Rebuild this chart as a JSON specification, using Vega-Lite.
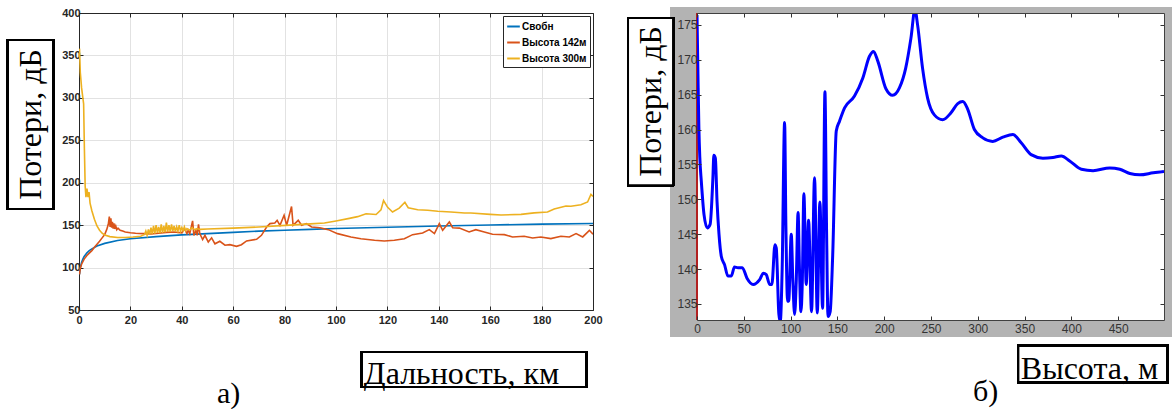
{
"$schema": "https://vega.github.io/schema/vega-lite/v6.json",
"autosize": {"type": "pad"},
"padding": {"left": 6, "top": 6, "right": 0, "bottom": 0},
"background": "white",
"config": {"view": {"stroke": null}},
"bounds": "flush",
"spacing": 104,
"resolve": {"scale": {"color": "independent"}, "legend": {"color": "independent"}},
"datasets": {
"left": [
{"s":"Свобн","d":0.2,"v":92},{"s":"Свобн","d":0.5,"v":100},{"s":"Свобн","d":1,"v":106},{"s":"Свобн","d":1.5,"v":110},{"s":"Свобн","d":2,"v":113},{"s":"Свобн","d":3,"v":117},{"s":"Свобн","d":4,"v":120},{"s":"Свобн","d":5,"v":122},{"s":"Свобн","d":7,"v":125.5},{"s":"Свобн","d":10,"v":128.5},{"s":"Свобн","d":15,"v":132},{"s":"Свобн","d":20,"v":134},{"s":"Свобн","d":30,"v":136.5},{"s":"Свобн","d":40,"v":138.5},{"s":"Свобн","d":50,"v":140},{"s":"Свобн","d":60,"v":141.5},{"s":"Свобн","d":70,"v":143},{"s":"Свобн","d":80,"v":144},{"s":"Свобн","d":90,"v":145},{"s":"Свобн","d":100,"v":146},{"s":"Свобн","d":120,"v":147.5},{"s":"Свобн","d":140,"v":149},{"s":"Свобн","d":160,"v":150.2},{"s":"Свобн","d":180,"v":151.2},{"s":"Свобн","d":200,"v":152},
{"s":"Высота 142м","d":0.2,"v":92},{"s":"Высота 142м","d":0.5,"v":99},{"s":"Высота 142м","d":1,"v":104},{"s":"Высота 142м","d":2,"v":110},{"s":"Высота 142м","d":3,"v":114},{"s":"Высота 142м","d":4,"v":117},{"s":"Высота 142м","d":5,"v":120},{"s":"Высота 142м","d":6,"v":124},{"s":"Высота 142м","d":7,"v":127.5},{"s":"Высота 142м","d":8,"v":131},{"s":"Высота 142м","d":9,"v":135},{"s":"Высота 142м","d":10,"v":139},{"s":"Высота 142м","d":10.8,"v":145},{"s":"Высота 142м","d":11.4,"v":151},{"s":"Высота 142м","d":11.8,"v":160},{"s":"Высота 142м","d":12.1,"v":148},{"s":"Высота 142м","d":12.4,"v":158},{"s":"Высота 142м","d":12.7,"v":147},{"s":"Высота 142м","d":13,"v":154},{"s":"Высота 142м","d":13.3,"v":146},{"s":"Высота 142м","d":13.6,"v":152},{"s":"Высота 142м","d":13.9,"v":145.5},{"s":"Высота 142м","d":14.3,"v":149},{"s":"Высота 142м","d":14.7,"v":144.5},{"s":"Высота 142м","d":15.2,"v":146.5},{"s":"Высота 142м","d":16,"v":144},{"s":"Высота 142м","d":17,"v":143},{"s":"Высота 142м","d":18,"v":142},{"s":"Высота 142м","d":20,"v":141},{"s":"Высота 142м","d":22,"v":140.5},{"s":"Высота 142м","d":25,"v":140},{"s":"Высота 142м","d":28,"v":139.5},{"s":"Высота 142м","d":31,"v":140.5},{"s":"Высота 142м","d":34,"v":141.5},{"s":"Высота 142м","d":37,"v":142},{"s":"Высота 142м","d":40,"v":141},{"s":"Высота 142м","d":41,"v":146},{"s":"Высота 142м","d":42,"v":140},{"s":"Высота 142м","d":42.5,"v":144},{"s":"Высота 142м","d":43.1,"v":140},{"s":"Высота 142м","d":44.2,"v":155},{"s":"Высота 142м","d":44.7,"v":138},{"s":"Высота 142м","d":45.5,"v":144},{"s":"Высота 142м","d":46,"v":138},{"s":"Высота 142м","d":46.5,"v":151},{"s":"Высота 142м","d":47,"v":140},{"s":"Высота 142м","d":48.1,"v":133},{"s":"Высота 142м","d":49,"v":138},{"s":"Высота 142м","d":50.3,"v":130},{"s":"Высота 142м","d":51.6,"v":135},{"s":"Высота 142м","d":52.9,"v":128},{"s":"Высота 142м","d":54.8,"v":131},{"s":"Высота 142м","d":56.8,"v":126.3},{"s":"Высота 142м","d":58.7,"v":127},{"s":"Высота 142м","d":61.3,"v":125},{"s":"Высота 142м","d":63.2,"v":127},{"s":"Высота 142м","d":65.2,"v":131.4},{"s":"Высота 142м","d":69.1,"v":133.3},{"s":"Высота 142м","d":71,"v":138},{"s":"Высота 142м","d":73,"v":147.8},{"s":"Высота 142м","d":74.3,"v":151.8},{"s":"Высота 142м","d":76.2,"v":152.5},{"s":"Высота 142м","d":77.1,"v":155.7},{"s":"Высота 142м","d":78.2,"v":149.8},{"s":"Высота 142м","d":79.8,"v":161.6},{"s":"Высота 142м","d":80.8,"v":149.8},{"s":"Высота 142м","d":82.7,"v":172},{"s":"Высота 142м","d":83.3,"v":149.8},{"s":"Высота 142м","d":85.3,"v":155.7},{"s":"Высота 142м","d":86.6,"v":149.8},{"s":"Высота 142м","d":88.5,"v":151.8},{"s":"Высота 142м","d":90.5,"v":147.8},{"s":"Высота 142м","d":93.7,"v":147},{"s":"Высота 142м","d":97,"v":144.7},{"s":"Высота 142м","d":100.6,"v":140},{"s":"Высота 142м","d":105.8,"v":136},{"s":"Высота 142м","d":109.7,"v":134},{"s":"Высота 142м","d":115,"v":132.2},{"s":"Высота 142м","d":118.8,"v":131.4},{"s":"Высота 142м","d":122.7,"v":132.2},{"s":"Высота 142м","d":126.6,"v":134},{"s":"Высота 142м","d":129.8,"v":138.8},{"s":"Высота 142м","d":133.7,"v":140.8},{"s":"Высота 142м","d":136.3,"v":144.7},{"s":"Высота 142м","d":138.3,"v":140},{"s":"Высота 142м","d":140.2,"v":151.8},{"s":"Высота 142м","d":141.5,"v":143.9},{"s":"Высота 142м","d":144.1,"v":153.7},{"s":"Высота 142м","d":145.4,"v":147},{"s":"Высота 142м","d":148,"v":146.5},{"s":"Высота 142м","d":151.8,"v":142},{"s":"Высота 142м","d":154.4,"v":144.7},{"s":"Высота 142м","d":157.7,"v":142},{"s":"Высота 142м","d":160.9,"v":139.2},{"s":"Высота 142м","d":165.5,"v":138.8},{"s":"Высота 142м","d":168.7,"v":136.1},{"s":"Высота 142м","d":173.2,"v":136.9},{"s":"Высота 142м","d":176.5,"v":134.9},{"s":"Высота 142м","d":179.7,"v":136.1},{"s":"Высота 142м","d":183.6,"v":134.1},{"s":"Высота 142м","d":187.5,"v":136.9},{"s":"Высота 142м","d":190.8,"v":136.1},{"s":"Высота 142м","d":193.4,"v":140},{"s":"Высота 142м","d":196,"v":136.1},{"s":"Высота 142м","d":198.6,"v":143.9},{"s":"Высота 142м","d":200,"v":139.2},
{"s":"Высота 300м","d":0.2,"v":358},{"s":"Высота 300м","d":0.5,"v":330},{"s":"Высота 300м","d":1,"v":312},{"s":"Высота 300м","d":1.5,"v":300},{"s":"Высота 300м","d":1.8,"v":293},{"s":"Высота 300м","d":2.1,"v":240},{"s":"Высота 300м","d":2.4,"v":196},{"s":"Высота 300м","d":2.7,"v":183},{"s":"Высота 300м","d":3.1,"v":193},{"s":"Высота 300м","d":3.5,"v":183},{"s":"Высота 300м","d":3.9,"v":189},{"s":"Высота 300м","d":4.3,"v":176},{"s":"Высота 300м","d":5,"v":167},{"s":"Высота 300м","d":6,"v":157},{"s":"Высота 300м","d":7,"v":149},{"s":"Высота 300м","d":8,"v":144},{"s":"Высота 300м","d":9,"v":140.5},{"s":"Высота 300м","d":10,"v":138.5},{"s":"Высота 300м","d":12,"v":136.5},{"s":"Высота 300м","d":15,"v":135.5},{"s":"Высота 300м","d":18,"v":135.5},{"s":"Высота 300м","d":21,"v":136},{"s":"Высота 300м","d":24,"v":137},{"s":"Высота 300м","d":25.5,"v":139},{"s":"Высота 300м","d":26,"v":143},{"s":"Высота 300м","d":26.5,"v":138},{"s":"Высота 300м","d":27,"v":145},{"s":"Высота 300м","d":27.5,"v":139},{"s":"Высота 300м","d":28,"v":147},{"s":"Высота 300м","d":28.5,"v":139.5},{"s":"Высота 300м","d":29,"v":149},{"s":"Высота 300м","d":29.5,"v":140},{"s":"Высота 300м","d":30,"v":150},{"s":"Высота 300м","d":30.5,"v":141},{"s":"Высота 300м","d":31,"v":148},{"s":"Высота 300м","d":31.5,"v":140.5},{"s":"Высота 300м","d":32,"v":151},{"s":"Высота 300м","d":32.5,"v":141},{"s":"Высота 300м","d":33,"v":149},{"s":"Высота 300м","d":33.5,"v":141.5},{"s":"Высота 300м","d":34,"v":153},{"s":"Высота 300м","d":34.5,"v":142},{"s":"Высота 300м","d":35,"v":150},{"s":"Высота 300м","d":35.5,"v":142},{"s":"Высота 300м","d":36,"v":151},{"s":"Высота 300м","d":36.5,"v":143},{"s":"Высота 300м","d":37,"v":149},{"s":"Высота 300м","d":37.5,"v":142.5},{"s":"Высота 300м","d":38,"v":148},{"s":"Высота 300м","d":38.5,"v":143},{"s":"Высота 300м","d":39,"v":150},{"s":"Высота 300м","d":39.5,"v":143},{"s":"Высота 300м","d":40,"v":147},{"s":"Высота 300м","d":40.5,"v":143.5},{"s":"Высота 300м","d":41,"v":148},{"s":"Высота 300м","d":41.5,"v":143.5},{"s":"Высота 300м","d":42,"v":146},{"s":"Высота 300м","d":43,"v":144},{"s":"Высота 300м","d":44,"v":147},{"s":"Высота 300м","d":45,"v":144.5},{"s":"Высота 300м","d":46,"v":146},{"s":"Высота 300м","d":47,"v":145},{"s":"Высота 300м","d":50,"v":145.5},{"s":"Высота 300м","d":60,"v":146.5},{"s":"Высота 300м","d":70,"v":147.8},{"s":"Высота 300м","d":82,"v":150},{"s":"Высота 300м","d":90,"v":151.5},{"s":"Высота 300м","d":95.5,"v":152.5},{"s":"Высота 300м","d":100,"v":154.9},{"s":"Высота 300м","d":105.2,"v":158},{"s":"Высота 300м","d":108.4,"v":160},{"s":"Высота 300м","d":111.7,"v":163.5},{"s":"Высота 300м","d":115.6,"v":162.5},{"s":"Высота 300м","d":117.5,"v":168},{"s":"Высота 300м","d":118.5,"v":179},{"s":"Высота 300м","d":120.1,"v":171},{"s":"Высота 300м","d":122,"v":165.5},{"s":"Высота 300м","d":124.6,"v":170},{"s":"Высота 300м","d":126.8,"v":177},{"s":"Высота 300м","d":128.1,"v":170.5},{"s":"Высота 300м","d":131.8,"v":168.2},{"s":"Высота 300м","d":135.7,"v":167.5},{"s":"Высота 300м","d":139.6,"v":166.3},{"s":"Высота 300м","d":144.7,"v":165.5},{"s":"Высота 300м","d":150,"v":164.3},{"s":"Высота 300м","d":152.5,"v":164.3},{"s":"Высота 300м","d":160,"v":162.7},{"s":"Высота 300м","d":164.2,"v":162},{"s":"Высота 300м","d":172,"v":162.7},{"s":"Высота 300м","d":177.1,"v":164.5},{"s":"Высота 300м","d":182.3,"v":165.5},{"s":"Высота 300м","d":184.9,"v":169},{"s":"Высота 300м","d":189.5,"v":172.5},{"s":"Высота 300м","d":191.4,"v":172.2},{"s":"Высота 300м","d":195.3,"v":174.1},{"s":"Высота 300м","d":197.9,"v":177.3},{"s":"Высота 300м","d":199.2,"v":186.3},{"s":"Высота 300м","d":200,"v":183.9}
],
"right": [
{"h":0,"v":176.4},{"h":1,"v":168},{"h":2,"v":160.3},{"h":3,"v":156},{"h":4.6,"v":152.6},{"h":7.5,"v":147.8},{"h":11,"v":145.9},{"h":14,"v":146.4},{"h":17,"v":153.1},{"h":18,"v":156.3},{"h":19.6,"v":155.9},{"h":21.4,"v":149.7},{"h":23.5,"v":145},{"h":26,"v":141.8},{"h":29.5,"v":140.6},{"h":33,"v":139},{"h":36.7,"v":139},{"h":40,"v":140.3},{"h":43.8,"v":140.2},{"h":48.4,"v":140.2},{"h":53.4,"v":138.7},{"h":60,"v":137.8},{"h":67,"v":138.5},{"h":71,"v":139.4},{"h":74,"v":139.2},{"h":77.6,"v":137.8},{"h":80,"v":137.8},{"h":83.3,"v":143.5},{"h":84.7,"v":143},{"h":87.5,"v":133.5},{"h":89,"v":132.5},{"h":91,"v":140},{"h":93.6,"v":161},{"h":95,"v":146},{"h":96.8,"v":135.4},{"h":98,"v":135.4},{"h":100.7,"v":145},{"h":102.5,"v":138},{"h":104.3,"v":133.5},{"h":106,"v":138},{"h":108,"v":148.1},{"h":109.5,"v":140},{"h":111,"v":133.9},{"h":112.5,"v":138},{"h":114.2,"v":150.8},{"h":116.7,"v":137.8},{"h":119.2,"v":147},{"h":122.4,"v":133.9},{"h":125.6,"v":153.1},{"h":128.5,"v":133.7},{"h":131.3,"v":149.6},{"h":134.2,"v":134.4},{"h":136.7,"v":165.4},{"h":138.5,"v":145},{"h":140,"v":133.2},{"h":142.3,"v":133.9},{"h":145,"v":142},{"h":148.8,"v":159.8},{"h":152.3,"v":161.2},{"h":157.7,"v":163.1},{"h":168.3,"v":164.8},{"h":177.2,"v":167.4},{"h":184.3,"v":170.5},{"h":188.6,"v":171.2},{"h":193.2,"v":169.8},{"h":202,"v":165.8},{"h":209,"v":164.9},{"h":216.4,"v":166},{"h":223,"v":168.8},{"h":228.6,"v":173.1},{"h":232.9,"v":177.2},{"h":235.7,"v":175},{"h":241,"v":168.8},{"h":246.4,"v":164.5},{"h":253.6,"v":162.1},{"h":262.5,"v":161.4},{"h":271.4,"v":162.4},{"h":278.6,"v":163.7},{"h":284,"v":164},{"h":289.3,"v":162.9},{"h":296.4,"v":160},{"h":305.4,"v":158.8},{"h":316,"v":158.3},{"h":326.8,"v":158.9},{"h":337.5,"v":159.3},{"h":346.4,"v":158.1},{"h":357,"v":156.4},{"h":369.6,"v":155.9},{"h":380.4,"v":156},{"h":389.3,"v":156.2},{"h":398.2,"v":155.5},{"h":410.7,"v":154.3},{"h":423.2,"v":154.1},{"h":441,"v":154.5},{"h":451.8,"v":154.3},{"h":462.5,"v":153.7},{"h":473.2,"v":153.5},{"h":487.5,"v":153.8},{"h":499,"v":154}
]
},
"hconcat": [
{
"width": 514, "height": 297,
"title": {"text": "а)", "orient": "bottom", "anchor": "start", "frame": "group", "dx": 138, "offset": 14, "baseline": "alphabetic", "font": "Liberation Serif", "fontSize": 30, "fontWeight": "normal", "color": "black"},
"data": {"name": "left"},
"layer": [
{
"mark": {"type": "line", "strokeWidth": 1.6, "clip": true},
"encoding": {
"x": {"field": "d", "type": "quantitative", "scale": {"domain": [0, 200], "nice": false, "zero": false},
"axis": {"orient": "bottom", "values": [0,20,40,60,80,100,120,140,160,180,200], "title": "Дальность, км", "titleFont": "Liberation Serif", "titleFontSize": 32, "titleFontWeight": "normal", "titleColor": "black", "titleX": 382, "titleY": 73, "titleAlign": "center", "titleBaseline": "alphabetic", "titleAnchor": null, "labelFont": "Liberation Sans", "labelFontWeight": "bold", "labelFontSize": 11, "labelColor": "#262626", "tickSize": -4, "tickColor": "#262626", "domainColor": "#262626", "labelPadding": 8, "grid": true, "gridColor": "#e2e2e2", "labelFlush": false}},
"y": {"field": "v", "type": "quantitative", "scale": {"domain": [50, 400], "nice": false, "zero": false},
"axis": {"orient": "left", "values": [50,100,150,200,250,300,350,400], "title": "Потери, дБ", "titleFont": "Liberation Serif", "titleFontSize": 32, "titleFontWeight": "normal", "titleColor": "black", "titleX": -49, "titleY": 111, "titleAngle": 270, "titleAlign": "center", "titleBaseline": "middle", "titleAnchor": null, "labelFont": "Liberation Sans", "labelFontWeight": "bold", "labelFontSize": 11, "labelColor": "#262626", "tickSize": -4, "tickColor": "#262626", "domainColor": "#262626", "labelPadding": 3, "grid": true, "gridColor": "#e2e2e2", "labelFlush": false}},
"color": {"field": "s", "type": "nominal", "sort": ["Свобн", "Высота 142м", "Высота 300м"],
"scale": {"domain": ["Свобн", "Высота 142м", "Высота 300м"], "range": ["#0072BD", "#D95319", "#EDB120"]},
"legend": {"title": null, "orient": "top-right", "offset": 3, "strokeColor": "#262626", "fillColor": "white", "padding": 3, "labelFont": "Liberation Sans", "labelFontWeight": "bold", "labelFontSize": 10, "labelColor": "black", "symbolType": "stroke", "symbolStrokeWidth": 2, "symbolSize": 160, "rowPadding": 3, "labelOffset": 1, "cornerRadius": 0}}
}
},
{
"mark": {"type": "line", "opacity": 0},
"encoding": {
"x": {"field": "d", "type": "quantitative", "scale": {"domain": [0, 200], "nice": false, "zero": false},
"axis": {"orient": "top", "values": [0,20,40,60,80,100,120,140,160,180,200], "labels": false, "title": null, "grid": false, "tickSize": -4, "tickColor": "#262626", "domainColor": "#262626"}},
"y": {"field": "v", "type": "quantitative", "scale": {"domain": [50, 400], "nice": false, "zero": false},
"axis": {"orient": "right", "values": [50,100,150,200,250,300,350,400], "labels": false, "title": null, "grid": false, "tickSize": -4, "tickColor": "#262626", "domainColor": "#262626"}},
"detail": {"field": "s"}
}
},
{
"mark": {"type": "rect", "filled": false, "stroke": "black", "strokeWidth": 2, "clip": false},
"encoding": {
"x": {"datum": -28, "type": "quantitative", "scale": {"domain": [0, 200], "nice": false, "zero": false}, "axis": null},
"x2": {"datum": -10.1},
"y": {"datum": 368.2, "type": "quantitative", "scale": {"domain": [50, 400], "nice": false, "zero": false}, "axis": null},
"y2": {"datum": 169}
}
},
{
"mark": {"type": "rect", "filled": false, "stroke": "black", "strokeWidth": 2, "clip": false},
"encoding": {
"x": {"datum": 110.1, "type": "quantitative", "scale": {"domain": [0, 200], "nice": false, "zero": false}, "axis": null},
"x2": {"datum": 197.3},
"y": {"datum": 0.5, "type": "quantitative", "scale": {"domain": [50, 400], "nice": false, "zero": false}, "axis": null},
"y2": {"datum": -40.7}
}
}
],
"resolve": {"axis": {"x": "independent", "y": "independent"}}
},
{
"width": 467, "height": 307,
"title": {"text": "б)", "orient": "bottom", "anchor": "start", "frame": "group", "dx": 276, "offset": 17, "baseline": "alphabetic", "font": "Liberation Serif", "fontSize": 30, "fontWeight": "normal", "color": "black"},
"data": {"name": "right"},
"layer": [
{
"mark": {"type": "rect", "color": "#b3b3b3", "clip": false},
"encoding": {
"x": {"datum": -28.8, "type": "quantitative", "scale": {"domain": [0, 499], "nice": false, "zero": false}, "axis": null},
"x2": {"datum": 507.6},
"y": {"datum": 177.56, "type": "quantitative", "scale": {"domain": [132.7, 176.7], "nice": false, "zero": false}, "axis": null},
"y2": {"datum": 130.26}
}
},
{
"mark": {"type": "rect", "color": "white", "clip": false},
"encoding": {
"x": {"datum": 0, "type": "quantitative", "scale": {"domain": [0, 499], "nice": false, "zero": false}, "axis": null},
"x2": {"datum": 499},
"y": {"datum": 176.7, "type": "quantitative", "scale": {"domain": [132.7, 176.7], "nice": false, "zero": false}, "axis": null},
"y2": {"datum": 132.7}
}
},
{
"mark": {"type": "rect", "fill": "white", "stroke": "black", "strokeWidth": 2, "clip": false},
"encoding": {
"x": {"datum": -73.7, "type": "quantitative", "scale": {"domain": [0, 499], "nice": false, "zero": false}, "axis": null},
"x2": {"datum": -25.6},
"y": {"datum": 176.0, "type": "quantitative", "scale": {"domain": [132.7, 176.7], "nice": false, "zero": false}, "axis": null},
"y2": {"datum": 152.0}
}
},
{
"mark": {"type": "rect", "filled": false, "stroke": "black", "strokeWidth": 2, "clip": false},
"encoding": {
"x": {"datum": 343, "type": "quantitative", "scale": {"domain": [0, 499], "nice": false, "zero": false}, "axis": null},
"x2": {"datum": 503.2},
"y": {"datum": 129.0, "type": "quantitative", "scale": {"domain": [132.7, 176.7], "nice": false, "zero": false}, "axis": null},
"y2": {"datum": 123.7}
}
},
{
"mark": {"type": "rule", "color": "#b22222", "strokeWidth": 1.5},
"encoding": {
"x": {"datum": 0, "type": "quantitative", "scale": {"domain": [0, 499], "nice": false, "zero": false}, "axis": null}
}
},
{
"mark": {"type": "line", "color": "#0000ff", "strokeWidth": 3, "interpolate": "monotone", "clip": true},
"encoding": {
"x": {"field": "h", "type": "quantitative", "scale": {"domain": [0, 499], "nice": false, "zero": false},
"axis": {"orient": "bottom", "zindex": 1, "values": [0,50,100,150,200,250,300,350,400,450], "title": "Высота, м", "titleFont": "Liberation Serif", "titleFontSize": 32, "titleFontWeight": "normal", "titleColor": "black", "titleX": 392, "titleY": 58, "titleAlign": "center", "titleBaseline": "alphabetic", "titleAnchor": null, "labelFont": "Liberation Sans", "labelFontSize": 12, "labelColor": "#333333", "tickSize": -4, "tickColor": "#333333", "domainColor": "#404040", "labelPadding": 7, "grid": false, "labelFlush": false}},
"y": {"field": "v", "type": "quantitative", "scale": {"domain": [132.7, 176.7], "nice": false, "zero": false},
"axis": {"orient": "left", "zindex": 1, "values": [135,140,145,150,155,160,165,170,175], "title": "Потери, дБ", "titleFont": "Liberation Serif", "titleFontSize": 32, "titleFontWeight": "normal", "titleColor": "black", "titleX": -47, "titleY": 88, "titleAngle": 270, "titleAlign": "center", "titleBaseline": "middle", "titleAnchor": null, "labelFont": "Liberation Sans", "labelFontSize": 12, "labelColor": "#333333", "tickSize": -4, "tickColor": "#333333", "domain": false, "labelPadding": 4, "grid": false, "labelFlush": false}}
}
},
{
"mark": {"type": "line", "opacity": 0},
"encoding": {
"x": {"field": "h", "type": "quantitative", "scale": {"domain": [0, 499], "nice": false, "zero": false},
"axis": {"orient": "top", "zindex": 1, "values": [0,50,100,150,200,250,300,350,400,450], "labels": false, "title": null, "grid": false, "tickSize": -4, "tickColor": "#333333", "domainColor": "#404040"}},
"y": {"field": "v", "type": "quantitative", "scale": {"domain": [132.7, 176.7], "nice": false, "zero": false},
"axis": {"orient": "right", "zindex": 1, "values": [135,140,145,150,155,160,165,170,175], "labels": false, "title": null, "grid": false, "tickSize": -4, "tickColor": "#333333", "domainColor": "#404040"}}
}
}
],
"resolve": {"axis": {"x": "independent", "y": "independent"}}
}
]
}
